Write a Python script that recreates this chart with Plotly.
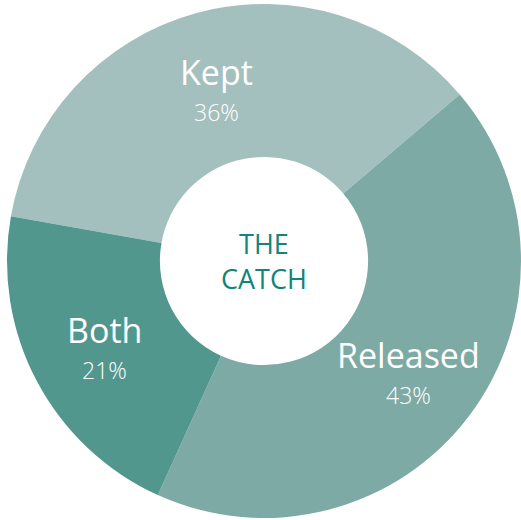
import math
import plotly.graph_objects as go

labels = ["Kept", "Released", "Both"]
values = [36, 43, 21]
colors = ["#a4c0be", "#7eaaa5", "#52978e"]
center_lines = ["THE", "CATCH"]

W, H = 521, 520
cx, cy, R = 264, 261, 257  # ring centre/radius in px
HOLE = 0.405
ROTATION = -80  # start angle of the first slice, degrees clockwise from 12 o'clock

fig = go.Figure(
    go.Pie(
        labels=labels,
        values=values,
        hole=HOLE,
        sort=False,
        direction="clockwise",
        rotation=ROTATION,
        marker=dict(colors=colors, line=dict(width=0)),
        textinfo="none",
        showlegend=False,
        hoverinfo="label+percent",
        domain=dict(
            x=[(cx - R) / W, (cx + R) / W],
            y=[(H - cy - R) / H, (H - cy + R) / H],
        ),
    )
)

# slice labels placed at the middle of the ring, at each slice's mid-angle
total = sum(values)
start = ROTATION
r_mid = R * (1 + HOLE) / 2
for lab, val in zip(labels, values):
    sweep = 360 * val / total
    mid = math.radians(start + sweep / 2)
    start += sweep
    px = cx + r_mid * math.sin(mid)
    py = cy - r_mid * math.cos(mid)
    xp, yp = px / W, (H - py) / H
    fig.add_annotation(
        x=xp, y=yp, xref="paper", yref="paper", showarrow=False,
        xanchor="center", yanchor="middle",
        text=lab, yshift=15,
        font=dict(family="Open Sans", size=34, color="white"),
    )
    fig.add_annotation(
        x=xp, y=yp, xref="paper", yref="paper", showarrow=False,
        xanchor="center", yanchor="middle",
        text=f"{round(100 * val / total)}%", yshift=-25,
        font=dict(family="Open Sans", size=23, color="white", weight=300),
    )

fig.add_annotation(
    x=cx / W, y=(H - cy) / H, xref="paper", yref="paper",
    xanchor="center", yanchor="middle",
    text="<br>".join(center_lines), showarrow=False,
    font=dict(family="Open Sans", size=27, color="#12847a"),
    align="center",
)

fig.update_layout(
    width=W, height=H,
    margin=dict(l=0, r=0, t=0, b=0),
    paper_bgcolor="white", plot_bgcolor="white",
)

fig.write_html("out.html")
